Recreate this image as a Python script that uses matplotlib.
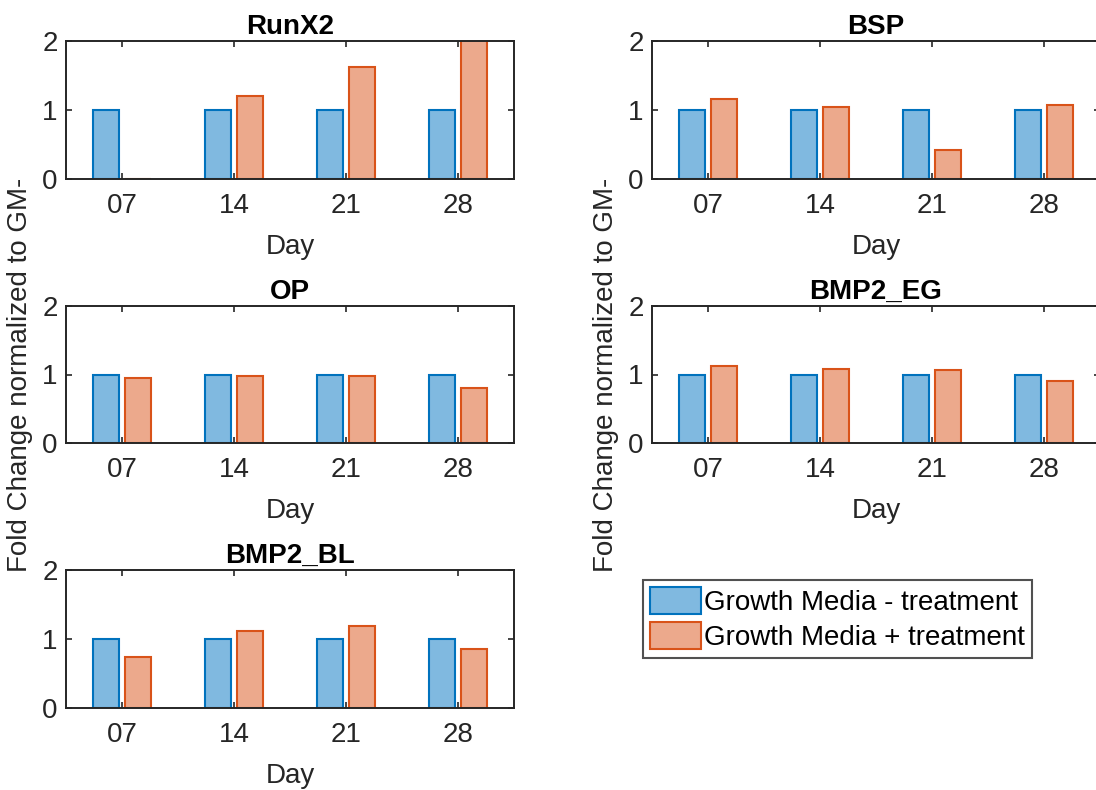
import matplotlib
matplotlib.use("Agg")
import matplotlib.pyplot as plt
import numpy as np

plt.rcParams['font.family'] = ['Liberation Sans', 'DejaVu Sans']

days = ["07", "14", "21", "28"]
genes = ["RunX2", "BSP", "OP", "BMP2_EG", "BMP2_BL"]
series_labels = ["Growth Media - treatment", "Growth Media + treatment"]

gm_minus = {
    "RunX2": [1.0, 1.0, 1.0, 1.0],
    "BSP": [1.0, 1.0, 1.0, 1.0],
    "OP": [1.0, 1.0, 1.0, 1.0],
    "BMP2_EG": [1.0, 1.0, 1.0, 1.0],
    "BMP2_BL": [1.0, 1.0, 1.0, 1.0],
}
gm_plus = {
    "RunX2": [0.0, 1.20, 1.63, 2.10],
    "BSP": [1.16, 1.04, 0.42, 1.07],
    "OP": [0.95, 0.98, 0.98, 0.80],
    "BMP2_EG": [1.13, 1.08, 1.07, 0.91],
    "BMP2_BL": [0.74, 1.11, 1.19, 0.86],
}

W, H = 1096, 790
fig = plt.figure(figsize=(W / 100, H / 100), dpi=100)

blue_face = "#80b9e0"
blue_edge = "#0072bd"
orange_face = "#eca98c"
orange_edge = "#d95319"
axc = "#262626"
fs = 20

col_x = [66, 652]
row_y = [(41, 179), (306, 443), (570, 708)]
ax_w = 448

def px_axes(x0, y0, y1):
    return fig.add_axes([x0 / W, 1 - y1 / H, ax_w / W, (y1 - y0) / H])

positions = [(0, 0), (0, 1), (1, 0), (1, 1), (2, 0)]
x = np.arange(1, len(days) + 1)
bw = 0.229
off = 0.143
for gene, (r, c) in zip(genes, positions):
    ax = px_axes(col_x[c], *row_y[r])
    b1 = ax.bar(x - off, gm_minus[gene], width=bw, color=blue_face,
                edgecolor=blue_edge, linewidth=1.5, label=series_labels[0])
    b2 = ax.bar(x + off, gm_plus[gene], width=bw, color=orange_face,
                edgecolor=orange_edge, linewidth=1.5, label=series_labels[1])
    ax.set_xlim(0.5, 4.5)
    ax.set_ylim(0, 2)
    ax.set_yticks([0, 1, 2])
    ax.set_xticks(x)
    ax.set_xticklabels(days)
    ax.tick_params(direction='in', length=4, width=1.2, colors=axc,
                   labelsize=fs, top=True, right=True, labelcolor=axc)
    ax.tick_params(axis='x', pad=10)
    ax.tick_params(axis='y', pad=6)
    for s in ax.spines.values():
        s.set_color(axc)
        s.set_linewidth(1.4)
    ax.set_xlabel("Day", fontsize=fs, color=axc, labelpad=11)
    ax.set_title(gene, fontsize=fs, fontweight='bold', pad=5)
    if r == 1:
        ax.set_ylabel("Fold Change normalized to GM-", fontsize=fs, color=axc)
        ax.yaxis.set_label_coords(-33 / ax_w, 0.5)
    handles = [b1, b2]

leg = fig.legend(handles, series_labels, loc='upper left',
                 bbox_to_anchor=(643 / W, 1 - 580 / H), fontsize=fs,
                 frameon=True, fancybox=False, edgecolor=axc,
                 borderpad=0.25, labelspacing=0.22, handlelength=1.85,
                 handleheight=1.1, handletextpad=0.1, borderaxespad=0)
leg.get_frame().set_linewidth(1.5)

fig.savefig("out.png", dpi=100)
